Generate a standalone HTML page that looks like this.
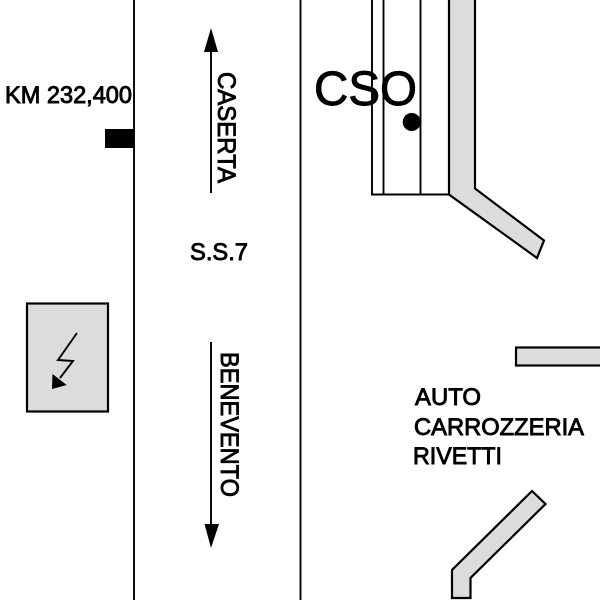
<!DOCTYPE html>
<html>
<head>
<meta charset="utf-8">
<style>
html,body{margin:0;padding:0;background:#fff;width:600px;height:600px;overflow:hidden}
svg{display:block}
text{font-family:"Liberation Sans",Arial,sans-serif;fill:#000;stroke:#000}
</style>
</head>
<body>
<svg width="600" height="600" viewBox="0 0 600 600" xmlns="http://www.w3.org/2000/svg">
<rect width="600" height="600" fill="#fff"/>
<g fill="none" stroke="#000" stroke-width="1.9">
<line x1="134" y1="0" x2="134" y2="600"/>
<line x1="300.5" y1="0" x2="300.5" y2="600"/>
<line x1="372" y1="0" x2="372" y2="194.5"/>
<line x1="383.5" y1="0" x2="383.5" y2="194.5"/>
<line x1="420.5" y1="0" x2="420.5" y2="194.5"/>
<line x1="371" y1="194.5" x2="449" y2="194.5"/>
<line x1="211" y1="45" x2="211" y2="193"/>
<line x1="211" y1="342" x2="211" y2="530"/>
</g>
<g fill="#dcdcdc" stroke="#000" stroke-width="2.2">
<polygon points="449,-5 449,194.5 537,258 544,240.5 475,188.5 475,-5"/>
<rect x="516" y="347.5" width="90" height="18"/>
<polygon points="452,598 452,570 532,491 545.5,504 470.5,578 470.5,598"/>
<rect x="27" y="303.5" width="81" height="108"/>
</g>
<rect x="105" y="129" width="29" height="19" fill="#000"/>
<circle cx="411.7" cy="122" r="9" fill="#000"/>
<polygon points="211,28 204,52 218,52" fill="#000"/>
<polygon points="211,548 204.5,524 219,524" fill="#000"/>
<polyline points="77,333 58,360 73,361 60,378" fill="none" stroke="#000" stroke-width="1.9"/>
<polygon points="52,389 52.5,374 66.7,385" fill="#000"/>
<text x="5" y="103" font-size="24" stroke-width="0.9" textLength="127" lengthAdjust="spacingAndGlyphs">KM 232,400</text>
<text x="314" y="105" font-size="48" stroke-width="0.9" textLength="103" lengthAdjust="spacingAndGlyphs">CSO</text>
<text x="190" y="260" font-size="24" stroke-width="0.9" textLength="58" lengthAdjust="spacingAndGlyphs">S.S.7</text>
<text transform="translate(218,72) rotate(90)" font-size="25" stroke-width="0.9" textLength="111" lengthAdjust="spacingAndGlyphs">CASERTA</text>
<text transform="translate(221,352) rotate(90)" font-size="25" stroke-width="0.9" textLength="145" lengthAdjust="spacingAndGlyphs">BENEVENTO</text>
<text x="415" y="405" font-size="24" stroke-width="0.9" textLength="66" lengthAdjust="spacingAndGlyphs">AUTO</text>
<text x="414" y="435" font-size="24" stroke-width="0.9" textLength="170" lengthAdjust="spacingAndGlyphs">CARROZZERIA</text>
<text x="413" y="464" font-size="24" stroke-width="0.9" textLength="89" lengthAdjust="spacingAndGlyphs">RIVETTI</text>
</svg>
</body>
</html>
